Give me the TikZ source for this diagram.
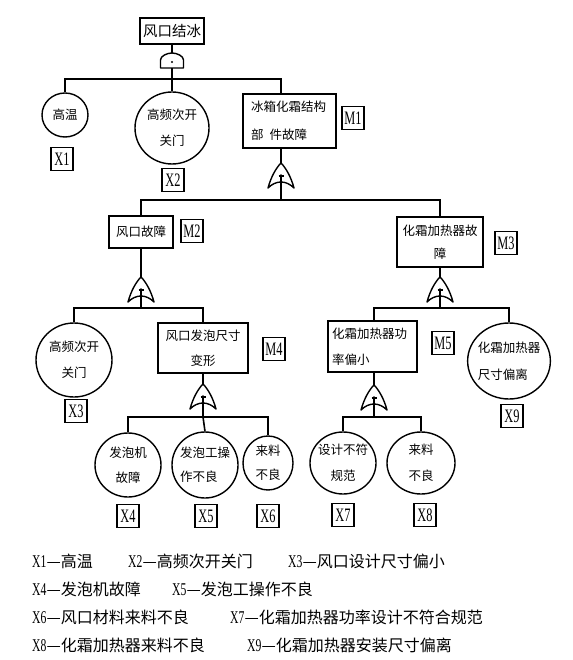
\documentclass[tikz,border=0pt]{standalone}
\usepackage{fontspec}
\setmainfont{Noto Sans CJK SC}
\newfontfamily\tagfont[FakeStretch=0.65]{Liberation Serif}
\usetikzlibrary{calc, shapes.geometric}
\newcommand{\lgx}[1]{{\tagfont\fontsize{18}{18}\selectfont #1}}
\tikzset{
  evtbox/.style   = {draw, line width=1.4pt, align=center, inner sep=3pt,
                     font=\fontsize{12.5}{25}\selectfont},
  basicev/.style  = {draw, ellipse, line width=1.4pt, align=center,
                     inner sep=-2pt, font=\fontsize{12.5}{26}\selectfont},
  tagbox/.style   = {draw, line width=1.4pt, minimum width=22pt,
                     minimum height=23pt, inner sep=1pt,
                     font=\tagfont\fontsize{19}{19}\selectfont},
  linkline/.style = {line width=1.6pt},
  gateline/.style = {line width=1.4pt, line join=round},
  lgtext/.style   = {anchor=base west, inner sep=0pt,
                     font=\fontsize{16}{16}\selectfont},
  % the AND gate under the top event, drawn from its top point
  andgate/.pic = {
    \draw[gateline] (-11.5,15) -- (-11.5,7)
      .. controls (-11.5,3) and (-5,0) .. (0,0)
      .. controls (5,0) and (11.5,3) .. (11.5,7) -- (11.5,15) -- cycle;
    \fill (0,9) circle (1.2);
    \coordinate (-in) at (0,0);
    \coordinate (-out) at (0,15);
  },
  % the OR gates, drawn from their tip
  orgate/.pic = {
    \draw[gateline] (0,0) .. controls (5,5) and (10,14) .. (13,25)
      .. controls (5,17) and (-5,17) .. (-13,25)
      .. controls (-10,14) and (-5,5) .. cycle;
    \draw[gateline] (-2.5,13) -- (2.5,13);
    \fill (0,12.5) circle (1.3);
    \coordinate (-in) at (0,0);
    \coordinate (-out) at (0,12.5);
  },
}

\begin{document}
\begin{tikzpicture}[x=1pt, y=-1pt]
  \useasboundingbox (0,0) rectangle (572,660);

  %% ---------------- the top event ----------------
  \node[evtbox, font=\fontsize{14.5}{16}\selectfont, minimum width=63pt,
        minimum height=26pt] (top) at (172,31) {风口结冰};
  \pic (g0) at (172,53) {andgate};
  \coordinate (j0) at (172,79);
  \draw[linkline] (top.south) -- (g0-in);
  \draw[linkline] (g0-out) -- (j0);

  %% ---------------- first level ----------------
  \node[basicev, minimum width=46pt, minimum height=44pt] (x1) at (65,115) {高温};
  \node[tagbox] (t1) at (62,159) {X1};
  \node[basicev, minimum width=74pt, minimum height=72pt] (x2) at (172,128)
       {高频次开\\关门};
  \node[tagbox] (t2) at (173,180) {X2};
  \node[evtbox, align=left, text width=77pt, inner xsep=8pt, minimum height=54pt,
        font=\fontsize{12.5}{28}\selectfont] (m1) at (289.5,121)
       {冰箱化霜结构\\部\hspace{6pt}件故障};
  \node[tagbox] (tm1) at (353,118) {M1};
  \pic (g1) at (281,163) {orgate};
  \coordinate (j1) at (281,200);

  \draw[linkline] (j0) -| (x1.north);
  \draw[linkline] (j0) -- (x2.north);
  \draw[linkline] (j0) -| (m1.north -| g1-in);
  \draw[linkline] (m1.south -| g1-in) -- (g1-in);
  \draw[linkline] (g1-out) -- (j1);

  %% ---------------- second level ----------------
  \node[evtbox, minimum width=64pt, minimum height=32pt] (m2) at (141,232) {风口故障};
  \node[tagbox] (tm2) at (192,231) {M2};
  \node[evtbox, text width=78pt, inner xsep=4pt, minimum height=50pt,
        font=\fontsize{12.5}{23}\selectfont] (m3) at (440,242) {化霜加热器故\\障};
  \node[tagbox] (tm3) at (506,243) {M3};
  \pic (g2) at (141,277) {orgate};
  \pic (g3) at (440,277) {orgate};
  \coordinate (j2) at (141,308);
  \coordinate (j3) at (440,308);

  \draw[linkline] (j1) -| (m2.north);
  \draw[linkline] (j1) -| (m3.north);
  \draw[linkline] (m2.south) -- (g2-in);
  \draw[linkline] (g2-out) -- (j2);
  \draw[linkline] (m3.south) -- (g3-in);
  \draw[linkline] (g3-out) -- (j3);

  %% ---------------- third level ----------------
  \node[basicev, minimum width=76pt, minimum height=74pt] (x3) at (74,360)
       {高频次开\\关门};
  \node[tagbox] (t3) at (76,411) {X3};
  \node[evtbox, minimum width=90pt, minimum height=50pt] (m4) at (203,348)
       {风口发泡尺寸\\变形};
  \node[tagbox] (tm4) at (274,349) {M4};
  \node[evtbox, align=left, text width=81pt, inner xsep=4pt, minimum height=51pt,
        font=\fontsize{12.5}{26}\selectfont] (m5) at (372.5,346.5)
       {化霜加热器功\\率偏小};
  \node[tagbox] (tm5) at (443,343) {M5};
  \node[basicev, align=left, minimum width=82pt, minimum height=76pt,
        font=\fontsize{12.5}{27}\selectfont] (x9) at (509,361)
       {化霜加热器\\尺寸偏离};
  \node[tagbox] (t9) at (512,416) {X9};
  \pic (g4) at (203,384) {orgate};
  \pic (g5) at (374,385) {orgate};
  \coordinate (j4) at (203,417);
  \coordinate (j5) at (374,417);

  \draw[linkline] (j2) -| (x3.north);
  \draw[linkline] (j2) -| (m4.north);
  \draw[linkline] (j3) -| (m5.north -| g5-in);
  \draw[linkline] (j3) -| (x9.north);
  \draw[linkline] (m4.south) -- (g4-in);
  \draw[linkline] (g4-out) -- (j4);
  \draw[linkline] (m5.south -| g5-in) -- (g5-in);
  \draw[linkline] (g5-out) -- (j5);

  %% ---------------- basic events ----------------
  \node[basicev, minimum width=66pt, minimum height=64pt, font=\fontsize{12.5}{25}\selectfont]
       (x4) at (128,465) {发泡机\\故障};
  \node[tagbox] (t4) at (128,516) {X4};
  \node[basicev, align=left, minimum width=66pt, minimum height=66pt,
        font=\fontsize{12.5}{24}\selectfont] (x5) at (205,465) {发泡工操\\作不良};
  \node[tagbox] (t5) at (206,516) {X5};
  \node[basicev, minimum width=50pt, minimum height=54pt, font=\fontsize{12.5}{24}\selectfont]
       (x6) at (268,463) {来料\\不良};
  \node[tagbox] (t6) at (268,516) {X6};
  \node[basicev, minimum width=66pt, minimum height=62pt, font=\fontsize{12.5}{26}\selectfont]
       (x7) at (343,463) {设计不符\\规范};
  \node[tagbox] (t7) at (343,515) {X7};
  \node[basicev, minimum width=68pt, minimum height=62pt, font=\fontsize{12.5}{26}\selectfont]
       (x8) at (421,463) {来料\\不良};
  \node[tagbox] (t8) at (425,515) {X8};

  \draw[linkline] (j4) -| (x4.north);
  \draw[linkline] (j4) -- (x5.north);
  \draw[linkline] (j4) -| (x6.north);
  \draw[linkline] (j5) -| (x7.north);
  \draw[linkline] (j5) -| (x8.north);

  %% ---------------- the key ----------------
  \foreach \nm/\xx/\yy/\txt in {
      1/32/567/高温, 2/128/567/高频次开关门, 3/288/567/风口设计尺寸偏小,
      4/32/595/发泡机故障, 5/172/595/发泡工操作不良,
      6/32/623/风口材料来料不良, 7/230/623/化霜加热器功率设计不符合规范,
      8/32/651/化霜加热器来料不良, 9/247/651/化霜加热器安装尺寸偏离} {
    \node[lgtext] (lg\nm) at (\xx,\yy) {\lgx{X\nm}—\txt};
  }

\end{tikzpicture}
\end{document}
